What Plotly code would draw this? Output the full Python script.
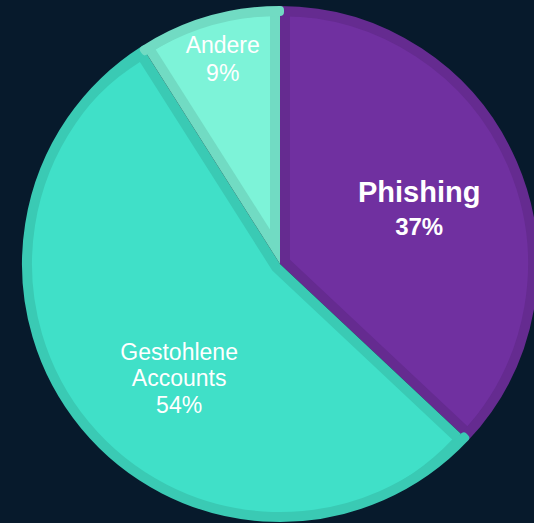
import math
import plotly.graph_objects as go

# ---------------- data ----------------
categories = ["Phishing", "Gestohlene Accounts", "Andere"]
shares = [37, 54, 9]          # percent

# ---------------- style ----------------
fill_colors = ["#7030a0", "#40e0c8", "#7df3d8"]
border_colors = ["#652b90", "#3acab4", "#71dbc3"]
BG = "#071a2c"
FONT = "Arial, Liberation Sans, sans-serif"

W, H = 534, 523
CX, CY = 280, 264          # pie centre (px)
R_BASE = 254               # radius of the base pie
R_OUT = 258                # outer radius incl. border
BORDER = 10
R_IN = R_OUT - BORDER
TRANSPARENT = "rgba(0,0,0,0)"

label_radius = [150, 153, 213]
label_turn = [1.5, -9.0, 0.6]
label_line_size = [26, 20.5, 21.5]     # controls line spacing
label_glyph_size = [(29, 24), (23, 23), (23, 23)]
TEXT_HALF = 215


def domain(cx, cy, half):
    return dict(
        x=[max(0.0, (cx - half) / W), min(1.0, (cx + half) / W)],
        y=[max(0.0, 1 - (cy + half) / H), min(1.0, 1 - (cy - half) / H)],
    )


def unit(angle_deg):
    a = math.radians(angle_deg)
    return math.sin(a), -math.cos(a)


total = float(sum(shares))
mids, halves = [], []
start = 0.0
for v in shares:
    span = 360.0 * v / total
    mids.append(start + span / 2)
    halves.append(math.radians(span / 2))
    start += span

common = dict(
    values=shares,
    labels=categories,
    sort=False,
    direction="clockwise",
    rotation=0,
    hoverinfo="skip",
    showlegend=False,
)

fig = go.Figure()

# 1) base pie in border colours
fig.add_trace(go.Pie(
    **common,
    textinfo="none",
    marker=dict(colors=border_colors, line=dict(width=0)),
    domain=domain(CX, CY, R_BASE),
))

# 2) inner (lighter) part of every slice, inset by the border width
for k in range(len(shares)):
    h = halves[k]
    d = BORDER / math.sin(h)
    r_light = -d * math.cos(h) + math.sqrt(R_IN ** 2 - BORDER ** 2)
    r_light = min(r_light, R_OUT - 1 - d)
    ux, uy = unit(mids[k])
    cols = [TRANSPARENT] * len(shares)
    cols[k] = fill_colors[k]
    fig.add_trace(go.Pie(
        **common,
        textinfo="none",
        marker=dict(colors=cols, line=dict(width=0)),
        domain=domain(CX + d * ux, CY + d * uy, r_light),
    ))

# 3) outer border ring
ring_w = 2 * (R_OUT - R_BASE)
fig.add_trace(go.Pie(
    **common,
    textinfo="none",
    hole=(R_IN + ring_w / 2) / R_BASE,
    marker=dict(colors=border_colors, line=dict(color=border_colors, width=ring_w)),
    domain=domain(CX, CY, R_BASE),
))


# 4) labels
def label_text(k):
    s_name, s_pct = label_glyph_size[k]
    lines = categories[k].split(" ")
    pct = f"{shares[k]}%"
    if k == 0:
        parts = [f"<b><span style='font-size:{s_name}px'>{ln}</span></b>" for ln in lines]
        parts.append(f"<b><span style='font-size:{s_pct}px'>{pct}</span></b>")
    else:
        parts = [f"<span style='font-size:{s_name}px'>{ln}</span>" for ln in lines]
        parts.append(f"<span style='font-size:{s_pct}px'>{pct}</span>")
    return "<br>".join(parts)


for k in range(len(shares)):
    h = halves[k]
    r_ins = min(1 / (1 + 1 / math.sin(h)), 0.5)
    rc = 1 - r_ins
    ux, uy = unit(mids[k] + label_turn[k])
    s = label_radius[k] - rc * TEXT_HALF
    texts = [""] * len(shares)
    texts[k] = label_text(k)
    pos = ["none"] * len(shares)
    pos[k] = "inside"
    fig.add_trace(go.Pie(
        values=shares,
        labels=categories,
        sort=False,
        direction="clockwise",
        rotation=label_turn[k],
        hoverinfo="skip",
        showlegend=False,
        text=texts,
        texttemplate="%{text}",
        textposition=pos,
        insidetextorientation="horizontal",
        textfont=dict(family=FONT, size=label_line_size[k], color="white"),
        marker=dict(colors=[TRANSPARENT] * len(shares), line=dict(width=0)),
        domain=domain(CX + s * ux, CY + s * uy, TEXT_HALF),
    ))

fig.update_layout(
    width=W,
    height=H,
    margin=dict(l=0, r=0, t=0, b=0),
    paper_bgcolor=BG,
    plot_bgcolor=BG,
    font=dict(family=FONT, color="white"),
)

fig.write_html(
    "out.html",
    config={"displayModeBar": False},
    post_script=f"document.body.style.margin='0px';document.body.style.background='{BG}';",
)
